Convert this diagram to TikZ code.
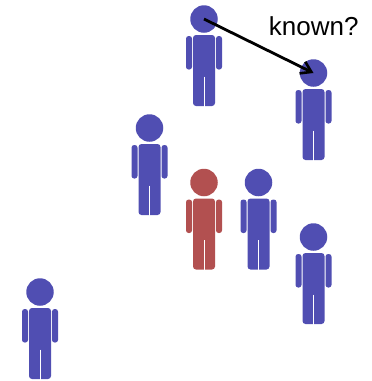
\documentclass[tikz,border=0pt]{standalone}
\usepackage{fontspec}
\setmainfont{Liberation Sans}
\usetikzlibrary{arrows.meta}
\definecolor{personblue}{RGB}{80,78,178}
\definecolor{personred}{RGB}{178,80,80}
\tikzset{
  head/.style={circle,fill=#1,draw=none,inner sep=0pt,minimum size=27.5pt},
  limb/.style={fill=#1,draw=none,rounded corners=2.6pt},
  body/.style={fill=#1,draw=none,rounded corners=3pt},
  slit/.style={draw=white,line width=1pt},
  link/.style={draw=black,line width=2.8pt,-{Straight Barb[length=10pt,width=13pt,line width=2.6pt]}},
  caption/.style={font=\fontsize{26pt}{30pt}\selectfont,text=black,inner sep=0pt,anchor=base}
}
\newcommand{\personfig}[4]{%
  \begin{scope}[shift={(#2,#3)}]
    \node[head=#4] (#1) at (0,0) {};
    \fill[limb=#4] (-18,17) rectangle (-12,50.5);
    \fill[limb=#4] (12,17) rectangle (18,50.5);
    \fill[body=#4] (-11,16) rectangle (11,87);
    \draw[slit] (0,57.5) -- (0,87.5);
  \end{scope}}
\begin{document}
\begin{tikzpicture}[x=1pt,y=-1pt]
  \useasboundingbox (0,0) rectangle (372,381);
  \personfig{pa}{204}{19}{personblue}
  \personfig{pb}{313.5}{73}{personblue}
  \personfig{pc}{149.5}{128}{personblue}
  \personfig{pd}{204}{182.5}{personred}
  \personfig{pe}{258.5}{182.5}{personblue}
  \personfig{pf}{313.5}{237}{personblue}
  \personfig{pg}{40}{292}{personblue}
  \draw[link] (pa.center) -- (pb.center);
  \node[caption] (lbl) at (313.8,35) {known?};
\end{tikzpicture}
\end{document}
